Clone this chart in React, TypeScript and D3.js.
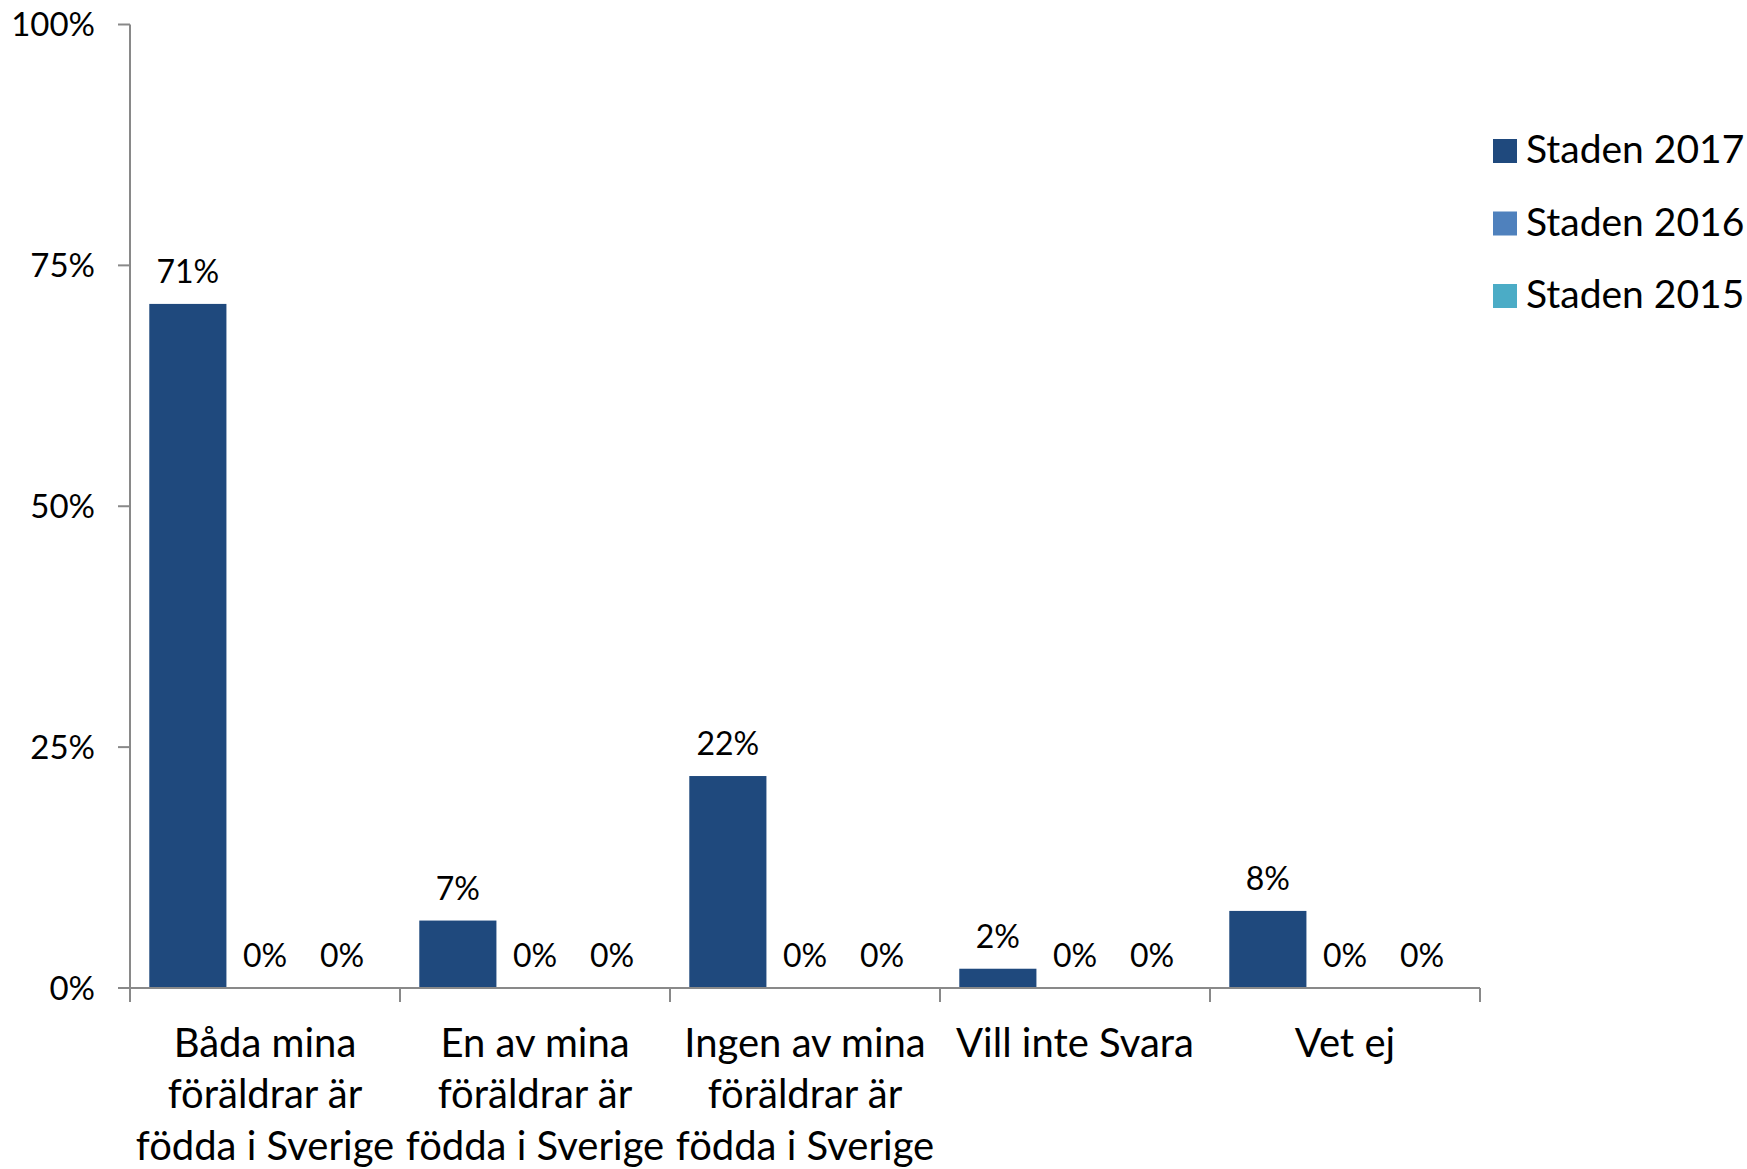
import * as d3 from "d3";

const categories: string[][] = [
  ["Båda mina", "föräldrar är", "födda i Sverige"],
  ["En av mina", "föräldrar är", "födda i Sverige"],
  ["Ingen av mina", "föräldrar är", "födda i Sverige"],
  ["Vill inte Svara"],
  ["Vet ej"],
];
const seriesNames = ["Staden 2017", "Staden 2016", "Staden 2015"];
const seriesColors = ["#1F497D", "#4F81BD", "#4BACC6"];
const staden2017 = [0.71, 0.07, 0.22, 0.02, 0.08];
const staden2016 = [0, 0, 0, 0, 0];
const staden2015 = [0, 0, 0, 0, 0];
const yTicks = [0, 0.25, 0.5, 0.75, 1];

const width = 1747;
const height = 1169;
const font = "Lato, 'Open Sans', sans-serif";

export default function App() {
  const series = [staden2017, staden2016, staden2015];
  const x0 = d3.scaleBand<number>().domain(d3.range(categories.length)).range([130, 1480]).padding(0);
  const x1 = d3.scaleBand<number>().domain(d3.range(series.length)).range([0, x0.bandwidth()]).paddingInner(0).paddingOuter(0.25);
  const y = d3.scaleLinear([0, 1], [988, 24.5]);
  const pct = d3.format(".0%");
  const axisColor = "#898989";

  return (
    <svg width={width} height={height} style={{ position: "absolute", left: 0, top: 0 }} fontFamily={font}>
      <rect width={width} height={height} fill="white" />
      {/* y axis */}
      <line x1={x0.range()[0]} x2={x0.range()[0]} y1={y(1)} y2={y(0) + 14} stroke={axisColor} strokeWidth={2} />
      {yTicks.map((t) => (
        <g key={t}>
          <line x1={x0.range()[0] - 12} x2={x0.range()[0]} y1={y(t)} y2={y(t)} stroke={axisColor} strokeWidth={2} />
          <text x={95} y={y(t)} dy="0.35em" textAnchor="end" fontSize={33} fill="#000">
            {pct(t)}
          </text>
        </g>
      ))}
      {/* bars */}
      {categories.map((_, ci) =>
        series.map((s, si) => {
          const bx = x0(ci)! + x1(si)!;
          return (
            <g key={`${ci}-${si}`}>
              <rect x={bx} y={y(s[ci])} width={x1.bandwidth()} height={y(0) - y(s[ci])} fill={seriesColors[si]} />
              <text x={bx + x1.bandwidth() / 2} y={y(s[ci]) - 21} textAnchor="middle" fontSize={32} fill="#000">
                {pct(s[ci])}
              </text>
            </g>
          );
        })
      )}
      {/* x axis */}
      <line x1={x0.range()[0]} x2={x0.range()[1]} y1={y(0)} y2={y(0)} stroke={axisColor} strokeWidth={2} />
      {d3.range(categories.length + 1).map((i) => {
        const tx = x0.range()[0] + i * x0.step();
        return <line key={i} x1={tx} x2={tx} y1={y(0)} y2={y(0) + 14} stroke={axisColor} strokeWidth={2} />;
      })}
      {categories.map((lines, ci) => (
        <text key={ci} x={x0(ci)! + x0.bandwidth() / 2} y={1056.5} textAnchor="middle" fontSize={40} fill="#000">
          {lines.map((l, li) => (
            <tspan key={li} x={x0(ci)! + x0.bandwidth() / 2} dy={li === 0 ? 0 : 51.5}>
              {l}
            </tspan>
          ))}
        </text>
      ))}
      {/* legend */}
      {seriesNames.map((name, i) => {
        const base = 163 + i * 72.5;
        return (
          <g key={name}>
            <rect x={1493} y={base - 24} width={24} height={24} fill={seriesColors[i]} />
            <text x={1526} y={base} fontSize={39} fill="#000">
              {name}
            </text>
          </g>
        );
      })}
    </svg>
  );
}
